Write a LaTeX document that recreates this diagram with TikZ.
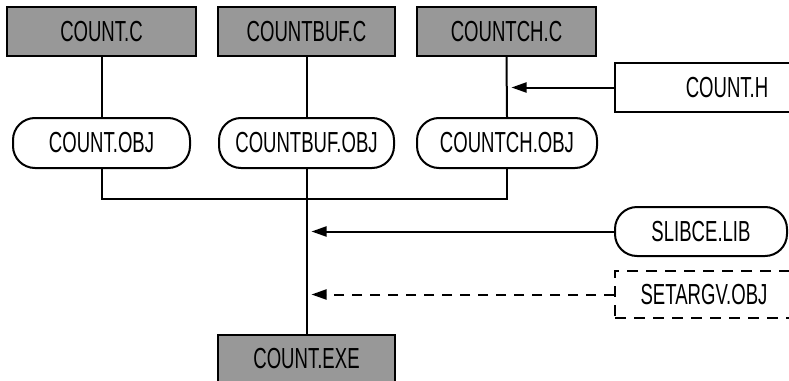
\documentclass[tikz,border=0pt]{standalone}
\usepackage{fontspec}
\setmainfont[FakeStretch=0.64]{Liberation Sans}
\usetikzlibrary{arrows.meta}

\definecolor{srcgray}{RGB}{152,152,152}

\tikzset{
  base/.style={draw=black, line width=2pt, inner sep=0pt, align=center,
    font=\fontsize{29}{30}\selectfont},
  srcbox/.style={base, fill=srcgray, rectangle},
  hdrbox/.style={base, fill=white, rectangle},
  objbox/.style={base, fill=white, rounded corners=22pt},
  optbox/.style={base, fill=white, dash pattern=on 11pt off 8pt},
  wire/.style={line width=2pt},
  feed/.style={line width=2pt, -{Triangle[length=15pt,width=10pt]}},
  optfeed/.style={feed, dash pattern=on 10pt off 8pt},
}

\begin{document}
\begin{tikzpicture}[x=1pt, y=-1pt]
  \useasboundingbox (0,0) rectangle (789,380);
  \clip (0,0) rectangle (789,380);

  % source files
  \node[srcbox, minimum width=189pt, minimum height=49pt] (cc)   at (101.5,31.5) {COUNT.C};
  \node[srcbox, minimum width=177pt, minimum height=49pt] (cbc)  at (306.5,31.5) {COUNTBUF.C};
  \node[srcbox, minimum width=179pt, minimum height=49pt] (cchc) at (506.5,31.5) {COUNTCH.C};

  % header
  \node[hdrbox, minimum width=224pt, minimum height=49pt] (ch) at (727,87.5) {COUNT.H};

  % object files
  \node[objbox, minimum width=177pt, minimum height=50pt] (co)   at (101.5,143) {COUNT.OBJ};
  \node[objbox, minimum width=175pt, minimum height=50pt] (cbo)  at (306.5,143) {COUNTBUF.OBJ};
  \node[objbox, minimum width=180pt, minimum height=50pt] (ccho) at (507,143)   {COUNTCH.OBJ};

  % libraries linked in
  \node[objbox, minimum width=172pt, minimum height=49pt] (slib) at (701,231.5) {SLIBCE.LIB};
  \node[optbox, minimum width=178pt, minimum height=47pt] (sarg) at (704,294.5) {SETARGV.OBJ};

  % executable
  \node[srcbox, minimum width=177pt, minimum height=48pt] (exe) at (306.5,359) {COUNT.EXE};

  % compile steps
  \draw[wire] (cc.south)   -- (co.north);
  \draw[wire] (cbc.south)  -- (cbo.north);
  \draw[wire] (cchc.south) -- (ccho.north);

  % link bus and trunk
  \coordinate (bus) at (306.5,199);
  \draw[wire] (co.south) -- (co.south |- bus) -- (ccho.south |- bus) -- (ccho.south);
  \draw[wire] (cbo.south) -- (exe.north);

  % inputs feeding the lines
  \draw[feed]    (ch.west)   -- ([xshift=5pt]cchc.south |- ch.west);
  \draw[feed]    (slib.west) -- ([xshift=5pt]exe.north |- slib.west);
  \draw[optfeed] (sarg.west) -- ([xshift=5pt]exe.north |- sarg.west);
\end{tikzpicture}
\end{document}
